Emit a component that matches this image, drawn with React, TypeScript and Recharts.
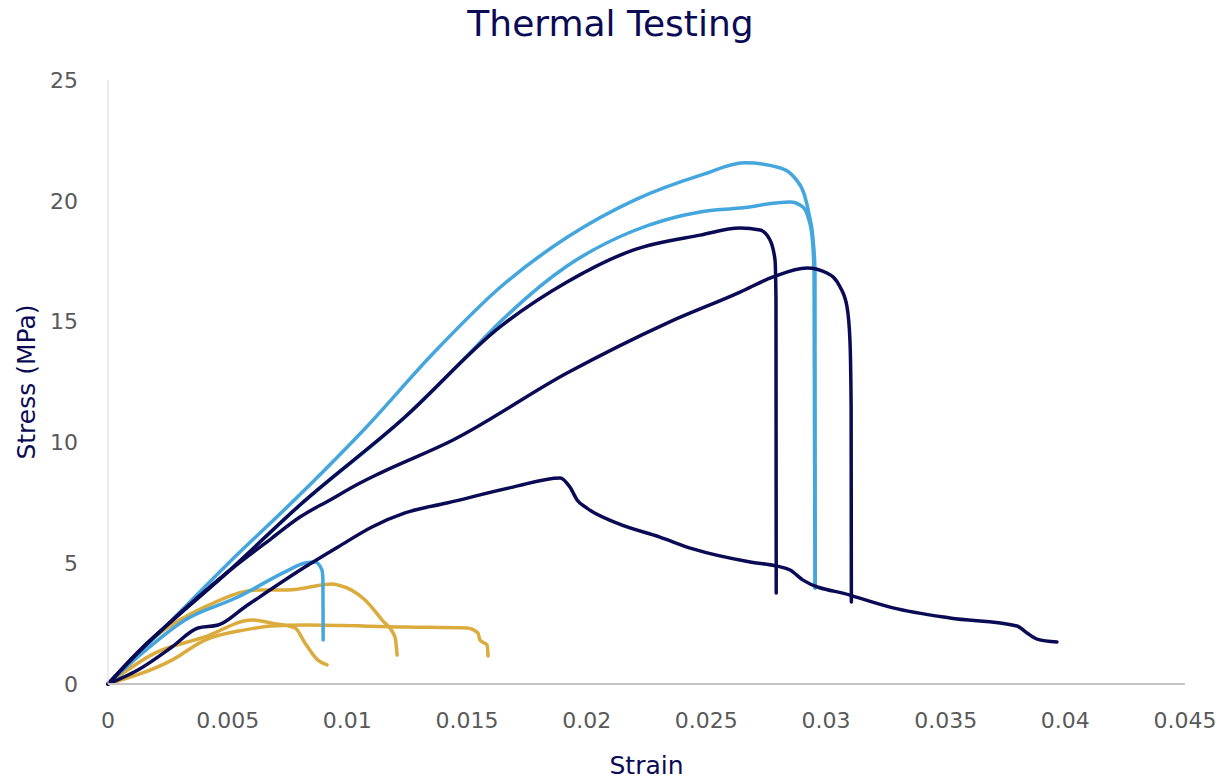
import { LineChart, Line, XAxis, YAxis, Label } from "recharts";

const NAVY = "#0b0b55";
const BLUE = "#44a6dc";
const GOLD = "#dcab3d";

const X_TICKS = [0, 0.005, 0.01, 0.015, 0.02, 0.025, 0.03, 0.035, 0.04, 0.045];
const Y_TICKS = [0, 5, 10, 15, 20, 25];

// [strain, stress (MPa)]
const GOLD_A = [
  [0, 0], [0.00196, 1.95], [0.00405, 3.19], [0.00627, 3.89], [0.00752, 3.89],
  [0.00936, 4.14], [0.00961, 4.1], [0.01074, 3.48], [0.01145, 2.65], [0.01199, 1.95],
  [0.01208, 1.2],
];
const GOLD_B = [
  [0, 0], [0.00267, 0.99], [0.00405, 1.82], [0.00572, 2.24], [0.00685, 2.4],
  [0.00823, 2.44], [0.01241, 2.36], [0.015, 2.32], [0.01546, 2.11], [0.01554, 1.82],
  [0.01584, 1.61], [0.01588, 1.16],
];
const GOLD_C = [
  [0, 0], [0.00196, 1.28], [0.00405, 1.95], [0.00602, 2.65], [0.00685, 2.52],
  [0.00781, 2.32], [0.00823, 1.7], [0.00877, 0.99], [0.00915, 0.79],
];

const BLUE_A = [
  [0, 0], [0.001, 0.99], [0.00238, 2.36], [0.005, 4.97], [0.008, 7.82],
  [0.0108, 10.64], [0.0136, 13.7], [0.0164, 16.43], [0.0192, 18.5], [0.022, 20.03],
  [0.0248, 21.07], [0.0266, 21.57], [0.0281, 21.36], [0.0287, 20.94], [0.0291, 20.24],
  [0.0293, 19.41], [0.02946, 18.38], [0.02954, 17.14], [0.02955, 3.97],
];
const BLUE_B = [
  [0, 0], [0.00134, 1.41], [0.00238, 2.36], [0.00501, 4.64], [0.00802, 7.41],
  [0.01241, 11.05], [0.015, 13.58], [0.01638, 14.98], [0.01918, 17.3], [0.02194, 18.75],
  [0.02474, 19.54], [0.02641, 19.7], [0.0285, 19.95], [0.02904, 19.74], [0.02925, 19.33],
  [0.02942, 18.5], [0.0295, 17.01], [0.02954, 3.97],
];
const BLUE_C = [
  [0, 0], [0.00134, 1.2], [0.00322, 2.65], [0.00543, 3.6], [0.0074, 4.64],
  [0.00823, 5.01], [0.00865, 5.05], [0.00894, 4.72], [0.00898, 4.3], [0.00899, 1.82],
];

const NAVY_A = [
  [0, 0], [0.00134, 1.41], [0.00238, 2.36], [0.00501, 4.64], [0.00802, 7.41],
  [0.01241, 11.05], [0.01638, 14.78], [0.01918, 16.64], [0.02194, 17.96], [0.02474, 18.58],
  [0.02641, 18.87], [0.02724, 18.79], [0.02766, 18.38], [0.02787, 17.55], [0.02791, 15.89],
  [0.02792, 3.77],
];
const NAVY_B = [
  [0, 0], [0.00134, 1.38], [0.00238, 2.36], [0.00501, 4.64], [0.00685, 6.04],
  [0.00802, 6.91], [0.00928, 7.62], [0.01053, 8.32], [0.01137, 8.73], [0.01442, 10.1],
  [0.01918, 12.87], [0.02336, 14.94], [0.02641, 16.22], [0.02779, 16.85], [0.02921, 17.22],
  [0.03004, 17.01], [0.03059, 16.43], [0.03088, 15.6], [0.031, 14.24], [0.03105, 11.47],
  [0.03106, 3.39],
];
const NAVY_C = [
  [0, 0], [0.00125, 0.58], [0.00267, 1.53], [0.00376, 2.32], [0.0046, 2.44],
  [0.00572, 3.19], [0.00823, 4.84], [0.00961, 5.67], [0.01103, 6.5], [0.01241, 7.08],
  [0.01416, 7.49], [0.01692, 8.15], [0.01889, 8.53], [0.0193, 8.15], [0.0196, 7.62],
  [0.02001, 7.28], [0.02127, 6.66], [0.02306, 6.08], [0.02444, 5.59], [0.02683, 5.05],
  [0.02795, 4.88], [0.0285, 4.72], [0.02904, 4.3], [0.031, 3.68], [0.0328, 3.15],
  [0.03518, 2.73], [0.03798, 2.4], [0.0384, 2.11], [0.03882, 1.86], [0.03965, 1.74],
];

// drawn bottom to top: gold, then light blue, navy last
const SERIES = [
  { name: "gold-a", color: GOLD, points: GOLD_A },
  { name: "gold-b", color: GOLD, points: GOLD_B },
  { name: "gold-c", color: GOLD, points: GOLD_C },
  { name: "blue-a", color: BLUE, points: BLUE_A },
  { name: "blue-b", color: BLUE, points: BLUE_B },
  { name: "blue-c", color: BLUE, points: BLUE_C },
  { name: "navy-a", color: NAVY, points: NAVY_A },
  { name: "navy-b", color: NAVY, points: NAVY_B },
  { name: "navy-c", color: NAVY, points: NAVY_C },
];

const FONT = "'DejaVu Sans', sans-serif";

export default function App() {
  return (
    <div style={{ position: "absolute", left: 0, top: 0, width: 1228, height: 780, background: "#fff", fontFamily: FONT }}>
      <div
        style={{
          position: "absolute",
          top: 2,
          left: 0,
          width: 1221,
          textAlign: "center",
          fontSize: 36,
          color: NAVY,
          lineHeight: "44px",
        }}
      >
        Thermal Testing
      </div>
      <LineChart width={1228} height={780} margin={{ top: 80, right: 43, bottom: 0, left: 0 }}>
        <XAxis
          dataKey="x"
          type="number"
          domain={[0, 0.045]}
          ticks={X_TICKS}
          tickFormatter={(v) => String(v)}
          tick={{ fontSize: 22, fill: "#595959" }}
          tickLine={false}
          tickSize={0}
          tickMargin={28}
          axisLine={{ stroke: "#c4c4c4", strokeWidth: 2 }}
          height={96}
          allowDuplicatedCategory={false}
        >
          <Label value="Strain" position="insideBottom" offset={6} style={{ fontSize: 25, fill: NAVY }} />
        </XAxis>
        <YAxis
          type="number"
          domain={[0, 25]}
          ticks={Y_TICKS}
          tick={{ fontSize: 22, fill: "#595959" }}
          tickLine={false}
          tickSize={0}
          tickMargin={30}
          axisLine={{ stroke: "#d9d9d9", strokeWidth: 1 }}
          width={108}
        >
          <Label
            value="Stress (MPa)"
            angle={-90}
            position="insideLeft"
            offset={26}
            style={{ fontSize: 25, fill: NAVY, textAnchor: "middle" }}
          />
        </YAxis>
        {SERIES.map((s) => (
          <Line
            key={s.name}
            data={s.points.map(([x, y]) => ({ x, y }))}
            dataKey="y"
            type="monotone"
            stroke={s.color}
            strokeWidth={3.5}
            strokeLinejoin="round"
            strokeLinecap="round"
            dot={false}
            activeDot={false}
            isAnimationActive={false}
          />
        ))}
      </LineChart>
    </div>
  );
}
